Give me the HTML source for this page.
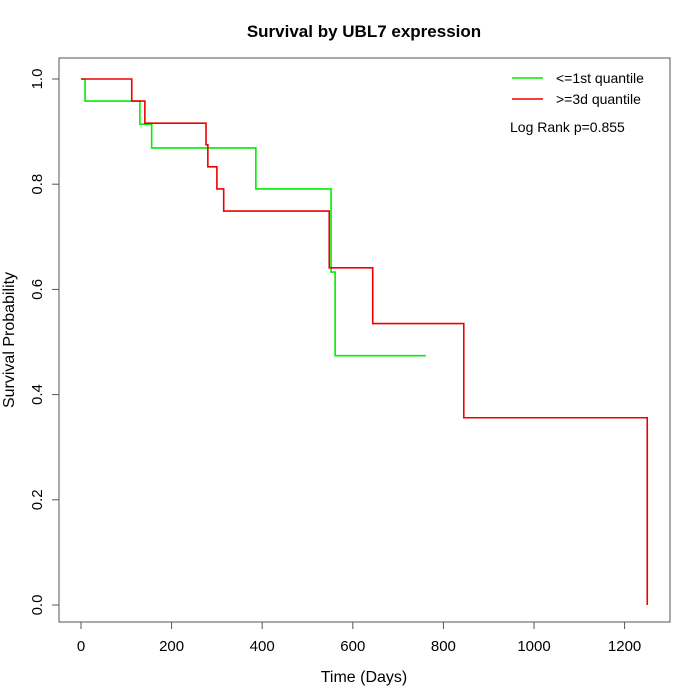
<!DOCTYPE html>
<html><head><meta charset="utf-8"><style>body{margin:0;background:#fff}svg{display:block;font-family:"Liberation Sans",sans-serif}</style></head>
<body>
<svg width="700" height="700">
<text x="364" y="37" text-anchor="middle" font-size="17" font-weight="bold">Survival by UBL7 expression</text>
<rect x="59" y="58" width="611" height="564" fill="none" stroke="#555"/>
<g id="xaxis"></g>
<g id="yaxis"></g>
<text x="364" y="682" text-anchor="middle" font-size="16">Time (Days)</text>
<text transform="translate(14,340) rotate(-90)" text-anchor="middle" font-size="16">Survival Probability</text>
<g id="curves"></g>
<g>
<line x1="512" y1="78" x2="543" y2="78" stroke="#00ee00" stroke-width="1.5"/>
<text x="556" y="83" font-size="14">&lt;=1st quantile</text>
<line x1="512" y1="99" x2="543" y2="99" stroke="#ee0000" stroke-width="1.5"/>
<text x="556" y="104" font-size="14">&gt;=3d quantile</text>
<text x="510" y="132" font-size="14">Log Rank p=0.855</text>
</g>
</svg>
<script>
const xTicks=[0,200,400,600,800,1000,1200];
const yTicks=[0,0.2,0.4,0.6,0.8,1.0];
const yTickLabels=["0.0","0.2","0.4","0.6","0.8","1.0"];
const lowTimes=[0,9,130,156,386,552,561,761];
const lowSurv=[1,0.958,0.914,0.869,0.791,0.633,0.474,0.474];
const highTimes=[0,112,141,276,280,300,315,548,644,845,1250];
const highSurv=[1,0.958,0.916,0.875,0.833,0.791,0.749,0.641,0.535,0.356,0];
const NS="http://www.w3.org/2000/svg";
const sx=t=>81+t*0.453, sy=s=>605-s*526;
const xa=document.getElementById('xaxis'), ya=document.getElementById('yaxis');
function mk(tag,attrs,parent){const e=document.createElementNS(NS,tag);for(const k in attrs)e.setAttribute(k,attrs[k]);parent.appendChild(e);return e;}
let l=mk('line',{x1:sx(0),x2:sx(1200),y1:622,y2:622,stroke:'#555'},xa);
xTicks.forEach(t=>{
 const tk=mk('line',{x1:sx(t),x2:sx(t),y1:622,y2:629,stroke:'#555'},xa);
 
 
 const tx=mk('text',{x:sx(t),y:651,'text-anchor':'middle','font-size':15},xa);
 
 
 tx.textContent=t;
});
mk('line',{x1:59,x2:59,y1:sy(0),y2:sy(1),stroke:'#555'},ya);
yTicks.forEach((v,i)=>{
 const tk=mk('line',{x1:52,x2:59,y1:sy(v),y2:sy(v),stroke:'#555'},ya);
 
 
 const tx=mk('text',{transform:`translate(42,${sy(v)}) rotate(-90)`,'text-anchor':'middle','font-size':15},ya);
 
 
 tx.textContent=yTickLabels[i];
});
function step(times,surv,color,name){
 let d=`M${sx(times[0])},${sy(surv[0])}`;
 for(let i=1;i<times.length;i++){d+=`H${sx(times[i])}V${sy(surv[i])}`;}
 const p=mk('path',{d:d,fill:'none',stroke:color,'stroke-width':1.6},document.getElementById('curves'));
 
 
}
step(lowTimes,lowSurv,'#00ee00','curve-low-expression');
step(highTimes,highSurv,'#ee0000','curve-high-expression');
</script>
</body></html>
